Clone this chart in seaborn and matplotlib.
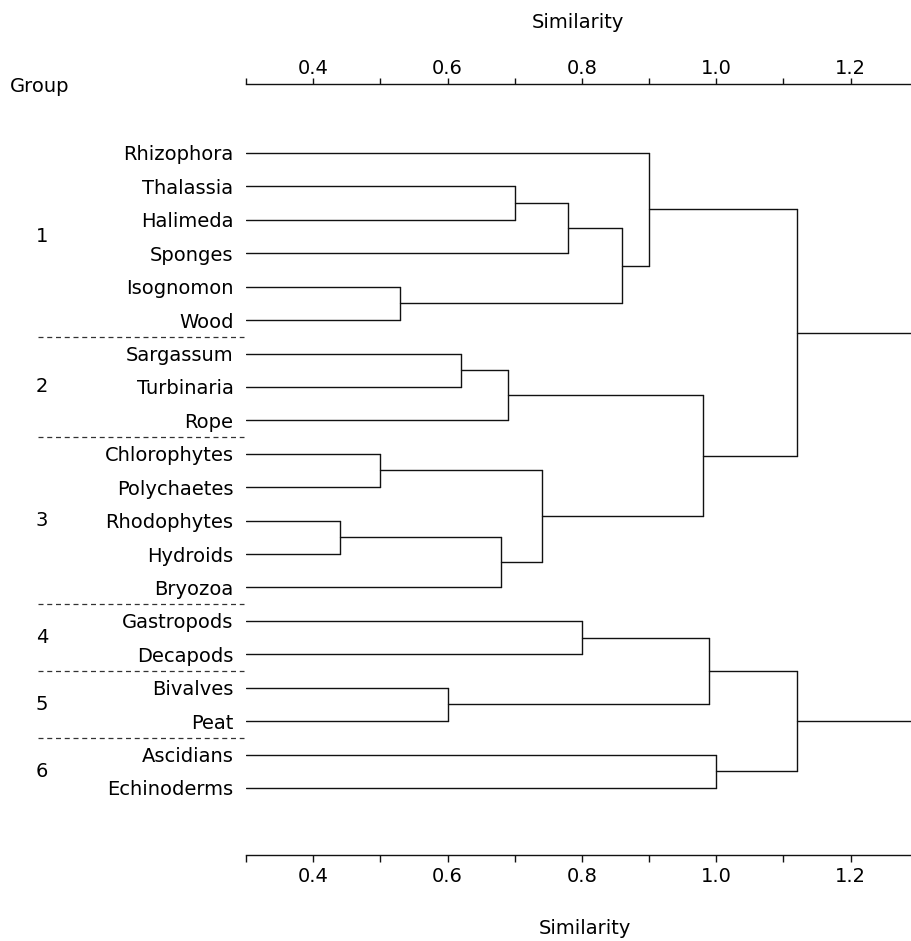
import matplotlib
matplotlib.use("Agg")
import matplotlib.pyplot as plt
import matplotlib.transforms as mtransforms
import numpy as np
import pandas as pd
import seaborn as sns

# ---------------- data ----------------
leaves = ["Rhizophora", "Thalassia", "Halimeda", "Sponges", "Isognomon", "Wood",
          "Sargassum", "Turbinaria", "Rope",
          "Chlorophytes", "Polychaetes", "Rhodophytes", "Hydroids", "Bryozoa",
          "Gastropods", "Decapods",
          "Bivalves", "Peat",
          "Ascidians", "Echinoderms"]
group_ids = ["1", "2", "3", "4", "5", "6"]
group_sizes = [6, 3, 5, 2, 2, 2]

# merges: (cluster name, child a, child b, similarity)
merge_names = ["c0", "c1", "c2", "c3", "c4", "c5", "c6", "c7", "c8", "c9",
               "c10", "c11", "c12", "c13", "c14", "c15", "c16", "c17"]
merge_a = ["Thalassia", "c0", "Isognomon", "c1", "Rhizophora", "Sargassum", "c5",
           "Chlorophytes", "Rhodophytes", "c8", "c7", "c6", "c4",
           "Gastropods", "Bivalves", "c13", "Ascidians", "c15"]
merge_b = ["Halimeda", "Sponges", "Wood", "c2", "c3", "Turbinaria", "Rope",
           "Polychaetes", "Hydroids", "Bryozoa", "c9", "c10", "c11",
           "Decapods", "Peat", "c14", "Echinoderms", "c16"]
merge_sim = [0.70, 0.78, 0.53, 0.86, 0.90, 0.62, 0.69,
             0.50, 0.44, 0.68, 0.74, 0.98, 1.12,
             0.80, 0.60, 0.99, 1.00, 1.12]
open_roots = ["c12", "c17"]   # clusters whose link continues past the axis

xticks_major = [0.4, 0.6, 0.8, 1.0, 1.2]
xticks_minor = [0.3, 0.5, 0.7, 0.9, 1.1]
x_min, x_max = 0.3, 1.29
axis_title = "Similarity"

# ---------------- build dendrogram segments ----------------
pos = {name: float(i) for i, name in enumerate(leaves)}
height = {name: x_min for name in leaves}
rows = []
seg = 0
for name, a, b, s in zip(merge_names, merge_a, merge_b, merge_sim):
    for child in (a, b):
        rows.append((seg, height[child], pos[child])); rows.append((seg, s, pos[child])); seg += 1
    rows.append((seg, s, pos[a])); rows.append((seg, s, pos[b])); seg += 1
    pos[name] = (pos[a] + pos[b]) / 2.0
    height[name] = s
for r in open_roots:
    rows.append((seg, height[r], pos[r])); rows.append((seg, x_max + 0.05, pos[r])); seg += 1
df = pd.DataFrame(rows, columns=["seg", "x", "y"])

# ---------------- figure ----------------
sns.set_theme(style="white")
plt.rcParams["font.family"] = ["DejaVu Sans"]
plt.rcParams["text.color"] = "black"
plt.rcParams["xtick.color"] = "black"
plt.rcParams["ytick.color"] = "black"
FS = 14
W, H = 911, 941
fig = plt.figure(figsize=(W / 100, H / 100), dpi=100)
ax_left, ax_right, ax_top, ax_bot = 246, 911, 84, 855
ax = fig.add_axes([ax_left / W, 1 - ax_bot / H, (ax_right - ax_left) / W, (ax_bot - ax_top) / H])

sns.lineplot(data=df, x="x", y="y", units="seg", estimator=None, sort=False,
             color="#111111", linewidth=1.0, ax=ax, legend=False)

# y range: leaf 0 at 153 px, spacing 33.4 px
y0, dy = 153, 33.42
ax.set_ylim((ax_bot - y0) / dy, (ax_top - y0) / dy)
ax.set_xlim(x_min, x_max)
ax.set_xlabel(""); ax.set_ylabel("")

ax.set_yticks(range(len(leaves)))
ax.set_yticklabels(leaves, fontsize=FS, color="black")
ax.tick_params(axis="y", length=0, pad=9)

for sp in ["left", "right", "top"]:
    ax.spines[sp].set_visible(False)
ax.spines["bottom"].set_linewidth(1.0)
ax.spines["bottom"].set_color("#111111")

ax.set_xticks(xticks_major)
ax.set_xticklabels([f"{v:.1f}" for v in xticks_major], fontsize=FS, color="black")
ax.set_xticks(xticks_minor, minor=True)
ax.tick_params(axis="x", which="both", direction="out", length=5, width=1.0,
               color="#111111", pad=4, bottom=True)

ax2 = ax.twiny()
ax2.set_xlim(x_min, x_max)
ax2.set_xticks(xticks_major)
ax2.set_xticklabels([f"{v:.1f}" for v in xticks_major], fontsize=FS, color="black")
ax2.set_xticks(xticks_minor, minor=True)
ax2.tick_params(axis="x", which="both", direction="out", length=4, width=1.0,
                color="#111111", pad=0, top=True)
for sp in ["left", "right", "bottom"]:
    ax2.spines[sp].set_visible(False)
ax2.spines["top"].set_linewidth(1.0)
ax2.spines["top"].set_color("#111111")

fig.text(578 / W, 1 - 22 / H, axis_title, ha="center", va="center", fontsize=FS, color="black")
fig.text(585 / W, 1 - 928 / H, axis_title, ha="center", va="center", fontsize=FS, color="black")

# group annotations
blend = mtransforms.blended_transform_factory(fig.transFigure, ax.transData)
fig.text(10 / W, 1 - 87 / H, "Group", ha="left", va="center", fontsize=FS, color="black")
start = 0
for gid, size in zip(group_ids, group_sizes):
    mid = start + (size - 1) / 2.0
    ax.text(42 / W, mid, gid, transform=blend, ha="center", va="center", fontsize=FS,
            color="black")
    end = start + size
    if end < len(leaves):
        ax.plot([38 / W, 244 / W], [end - 0.5, end - 0.5], transform=blend,
                color="#333333", lw=0.9, ls=(0, (4, 3)), clip_on=False)
    start = end

fig.savefig("out.png", dpi=100, facecolor="white")
